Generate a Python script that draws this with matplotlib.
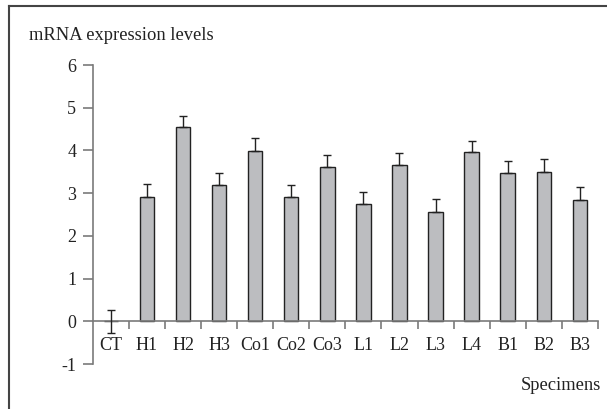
import numpy as np
import matplotlib.pyplot as plt
from matplotlib.lines import Line2D

# data
specimens = ['CT', 'H1', 'H2', 'H3', 'Co1', 'Co2', 'Co3', 'L1', 'L2', 'L3', 'L4', 'B1', 'B2', 'B3']
expression = [0.0, 2.90, 4.55, 3.18, 3.99, 2.90, 3.61, 2.74, 3.66, 2.56, 3.96, 3.48, 3.50, 2.85]
error_up = [0.27, 0.32, 0.25, 0.29, 0.30, 0.29, 0.29, 0.28, 0.27, 0.30, 0.27, 0.28, 0.29, 0.30]
error_down = [0.27, 0, 0, 0, 0, 0, 0, 0, 0, 0, 0, 0, 0, 0]
y_ticks = [-1, 0, 1, 2, 3, 4, 5, 6]

plt.rcParams['font.family'] = ['Liberation Serif', 'DejaVu Serif']

fig = plt.figure(figsize=(6.07, 4.09), dpi=100)
ax = fig.add_axes([0.153, 0.110, 0.832, 0.731])

x = np.arange(len(specimens))
ax.bar(x, expression, width=0.4, color='#bcbdc0', edgecolor='#222222', linewidth=1.0, zorder=2)
ax.errorbar(x, expression, yerr=[error_down, error_up], fmt='none', ecolor='#222222',
            elinewidth=1.0, capsize=3, capthick=1.0, zorder=3)

ax.set_xlim(-0.5, len(specimens) - 0.5)
ax.set_ylim(-1, 6)

spine_col = '#7a7a7a'
for s in ['top', 'right']:
    ax.spines[s].set_visible(False)
ax.spines['bottom'].set_position(('data', 0))
ax.spines['left'].set_color(spine_col)
ax.spines['bottom'].set_color(spine_col)
ax.spines['left'].set_linewidth(1.2)
ax.spines['bottom'].set_linewidth(1.2)

ax.set_yticks(y_ticks)
ax.set_yticklabels([str(v) for v in y_ticks], fontsize=13, color='#222222')
ax.tick_params(axis='y', length=7, width=1.2, color=spine_col, pad=5)

ax.set_xticks(x)
ax.set_xticklabels(specimens, fontsize=13, color='#222222')
ax.set_xticks(np.arange(0.5, len(specimens), 1), minor=True)
ax.tick_params(axis='x', which='major', length=0, pad=11)
ax.tick_params(axis='x', which='minor', length=6, width=1.2, color=spine_col)

fig.text(0.047, 0.912, 'mRNA expression levels', fontsize=13.3, color='#222222', va='center')
fig.text(0.99, 0.057, 'Specimens', fontsize=13.3, color='#222222', ha='right', va='center')

# outer frame (left and top only)
fig.add_artist(Line2D([0.015, 0.015], [0.0, 0.985], color='#444444', lw=1.5))
fig.add_artist(Line2D([0.015, 1.0], [0.985, 0.985], color='#444444', lw=1.5))

fig.savefig('out.png', dpi=100)
